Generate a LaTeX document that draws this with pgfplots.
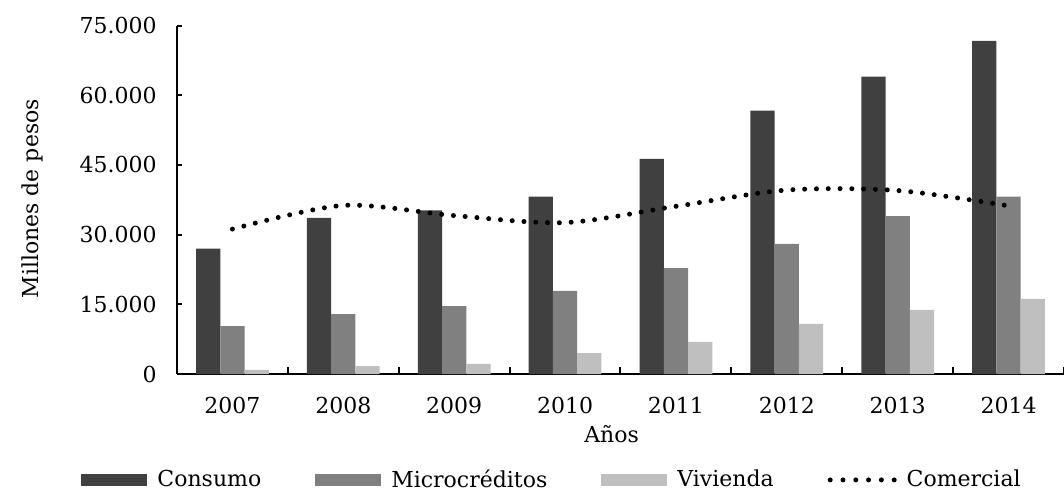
\documentclass[border=0pt]{standalone}
\usepackage{pgfplots}
\pgfplotsset{compat=1.18}
\usepackage{fontspec}
\setmainfont{DejaVu Serif}
\definecolor{cons}{HTML}{404040}
\definecolor{micro}{HTML}{808080}
\definecolor{viv}{HTML}{BFBFBF}
\begin{document}
\fontsize{11pt}{13pt}\selectfont
\begin{tikzpicture}
\path[use as bounding box] (-88.5pt,-59.5pt) rectangle (443.5pt,187pt);
\begin{axis}[
  at={(0pt,0pt)}, anchor=south west,
  scale only axis, width=443.5pt, height=174.2pt,
  xmin=-0.5, xmax=7.5, ymin=0, ymax=75000,
  axis x line=bottom, axis y line=left,
  axis line style={-, line width=1pt, black},
  tick align=inside,
  xtick={-0.5,0.5,...,7.5},
  x tick label as interval,
  xticklabels={2007,2008,2009,2010,2011,2012,2013,2014},
  ytick={0,15000,30000,45000,60000,75000},
  yticklabels={0,15.000,30.000,45.000,60.000,75.000},
  scaled y ticks=false,
  /pgf/number format/assume math mode=true,
  xtick style={line width=1pt, black, /pgfplots/major tick length=3.5pt},
  ytick style={line width=1pt, black, /pgfplots/major tick length=2.5pt},
  xticklabel style={yshift=-7.5pt},
  yticklabel style={xshift=-6.3pt},
  xlabel={Años},
  xlabel style={at={(axis description cs:0.49,0)}, anchor=north, yshift=-21.8pt},
  ylabel={Millones de pesos},
  ylabel style={at={(axis description cs:-0.1635,0.503)}, anchor=center},
  legend columns=4,
  legend style={draw=none, fill=none, at={(0.424,-0.304)}, anchor=center,
    /tikz/every odd column/.append style={column sep=3pt},
    /tikz/every even column/.append style={column sep=25pt},
    font=\fontsize{11pt}{13pt}\selectfont},
  legend cell align=left,
]
\addplot[ybar, bar width=0.219, bar shift=-0.219, fill=cons, draw=none,
  legend image code/.code={\fill[cons] (0pt,-3pt) rectangle (33pt,3pt);}]
  coordinates {(0,27000) (1,33600) (2,35200) (3,38200) (4,46300) (5,56700) (6,64000) (7,71700)};
\addlegendentry{Consumo}
\addplot[ybar, bar width=0.219, bar shift=0, fill=micro, draw=none,
  legend image code/.code={\fill[micro] (0pt,-3pt) rectangle (33pt,3pt);}]
  coordinates {(0,10300) (1,12900) (2,14600) (3,17900) (4,22800) (5,28000) (6,34000) (7,38200)};
\addlegendentry{Microcréditos}
\addplot[ybar, bar width=0.219, bar shift=0.219, fill=viv, draw=none,
  legend image code/.code={\fill[viv] (0pt,-3pt) rectangle (33pt,3pt);}]
  coordinates {(0,900) (1,1700) (2,2200) (3,4500) (4,6900) (5,10800) (6,13800) (7,16200)};
\addlegendentry{Vivienda}
\addplot[smooth, black, line width=2.5pt, line cap=round, dash pattern=on 0pt off 5.9pt,
  legend image code/.code={\draw[black, line width=2.5pt, line cap=round, dash pattern=on 0pt off 6.4pt] (1pt,0pt) -- (33pt,0pt);}]
  coordinates {(0,31200) (1,36300) (2,34100) (3,32600) (4,36100) (5,39600) (6,39500) (7,36200)};
\addlegendentry{Comercial}
\end{axis}
\end{tikzpicture}
\end{document}
